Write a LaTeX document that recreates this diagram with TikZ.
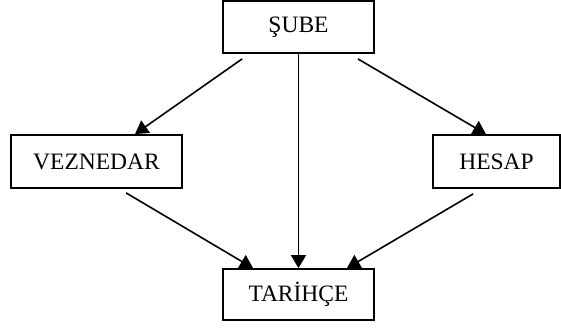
\documentclass[tikz,border=0pt]{standalone}
\usepackage{fontspec}
\setmainfont{Liberation Serif}
\usetikzlibrary{arrows.meta,calc}
\begin{document}
\begin{tikzpicture}[x=1pt,y=-1pt,
  box/.style={draw,line width=1.8pt,inner sep=0pt,font=\fontsize{23.5}{28}\selectfont},
  conn/.style={line width=1.6pt,-{Triangle[length=13pt,width=15pt]}}]
\useasboundingbox (0,0) rectangle (561,327);
\node[box,minimum width=151pt,minimum height=52pt] (sube) at (298.5,27) {ŞUBE};
\node[box,minimum width=171pt,minimum height=53pt] (vez) at (96.5,161.5) {VEZNEDAR};
\node[box,minimum width=127pt,minimum height=53pt] (hes) at (496.5,161.5) {HESAP};
\node[box,minimum width=151pt,minimum height=51pt] (tar) at (298.5,294.5) {TARİHÇE};
\coordinate (s1) at ($(sube.south west)+(20,5)$);
\coordinate (s3) at ($(sube.south east)+(-17,5)$);
\coordinate (v1) at ($(vez.south west)+(116,4)$);
\coordinate (h1) at ($(hes.south west)+(41,5)$);
\draw[conn] (s1) -- (vez.north west -| 135,0);
\draw[conn] (sube.south) -- (tar.north);
\draw[conn] (s3) -- (hes.north west -| 486,0);
\draw[conn] (v1) -- (tar.north west -| 253,0);
\draw[conn] (h1) -- (tar.north west -| 347,0);
\end{tikzpicture}
\end{document}
